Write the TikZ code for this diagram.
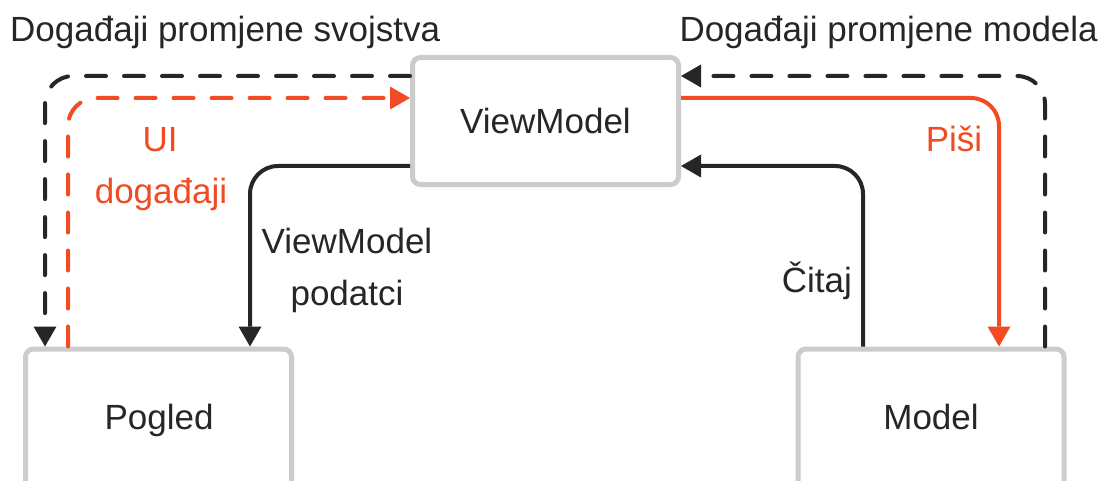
\documentclass[tikz,border=0pt]{standalone}
\usepackage{fontspec}
\setmainfont{Liberation Sans}
\usetikzlibrary{arrows.meta}
\definecolor{ink}{HTML}{262626}
\definecolor{orng}{HTML}{F04B23}
\definecolor{boxgray}{HTML}{CCCCCC}
\tikzset{
  boxnode/.style={draw=boxgray, line width=5pt, rounded corners=8pt, fill=white,
    minimum width=266pt, minimum height=127pt, inner sep=0pt, text=ink,
    font=\fontsize{35}{42}\selectfont},
  lbl/.style={font=\fontsize{35}{52}\selectfont, inner sep=0pt, align=center},
  conn/.style={line width=4pt, rounded corners=28pt, -{Triangle[length=20pt,width=23pt,line width=0pt]}},
  dsh/.style={dash pattern=on 20pt off 18pt, line cap=round},
}
\begin{document}
\begin{tikzpicture}[x=1pt,y=-1pt]
\useasboundingbox (0,0) rectangle (1107,481);
\fill[white] (0,0) rectangle (1107,481);
% boxes
\node[boxnode] (vm) at (545.5,121) {ViewModel};
\node[boxnode, minimum height=140pt] (pog) at (158.5,419) {};
\node[boxnode, minimum height=140pt] (mod) at (931,419) {};
\node[text=ink, font=\fontsize{35}{42}\selectfont, anchor=base, inner sep=0pt] (pogt) at (159,429) {Pogled};
\node[text=ink, font=\fontsize{35}{42}\selectfont, anchor=base, inner sep=0pt] (modt) at (931,429) {Model};
% titles
\node[lbl, text=ink, anchor=base west] (t1) at (10,42) {Događaji promjene svojstva};
\node[lbl, text=ink, anchor=base east] (t2) at (1098,42) {Događaji promjene modela};
% labels
\node[lbl, text=orng, anchor=base] (ui) at (160,152) {UI};
\node[lbl, text=orng, anchor=base] (ui2) at (161,203) {događaji};
\node[lbl, text=ink, anchor=base] (vmd) at (347,253) {ViewModel};
\node[lbl, text=ink, anchor=base] (vmd2) at (347,305) {podatci};
\node[lbl, text=ink, anchor=base east] (cit) at (852,292) {Čitaj};
\node[lbl, text=orng, anchor=base] (pisi) at (954,152) {Piši};
% connectors
\draw[conn, dsh, draw=ink] (vm.west |- 0,76) -| (pog.north -| 45,0);
\draw[conn, dsh, draw=orng] (pog.north -| 68,0) |- (vm.west |- 0,98);
\draw[conn, draw=ink] (vm.west |- 0,166) -| (pog.north -| 250,0);
\draw[conn, dsh, draw=ink] (mod.north -| 1045,0) |- (vm.east |- 0,76);
\draw[conn, draw=orng] (vm.east |- 0,98) -| (mod.north -| 999,0);
\draw[conn, draw=ink] (mod.north -| 863,0) |- (vm.east |- 0,166);
\end{tikzpicture}
\end{document}
